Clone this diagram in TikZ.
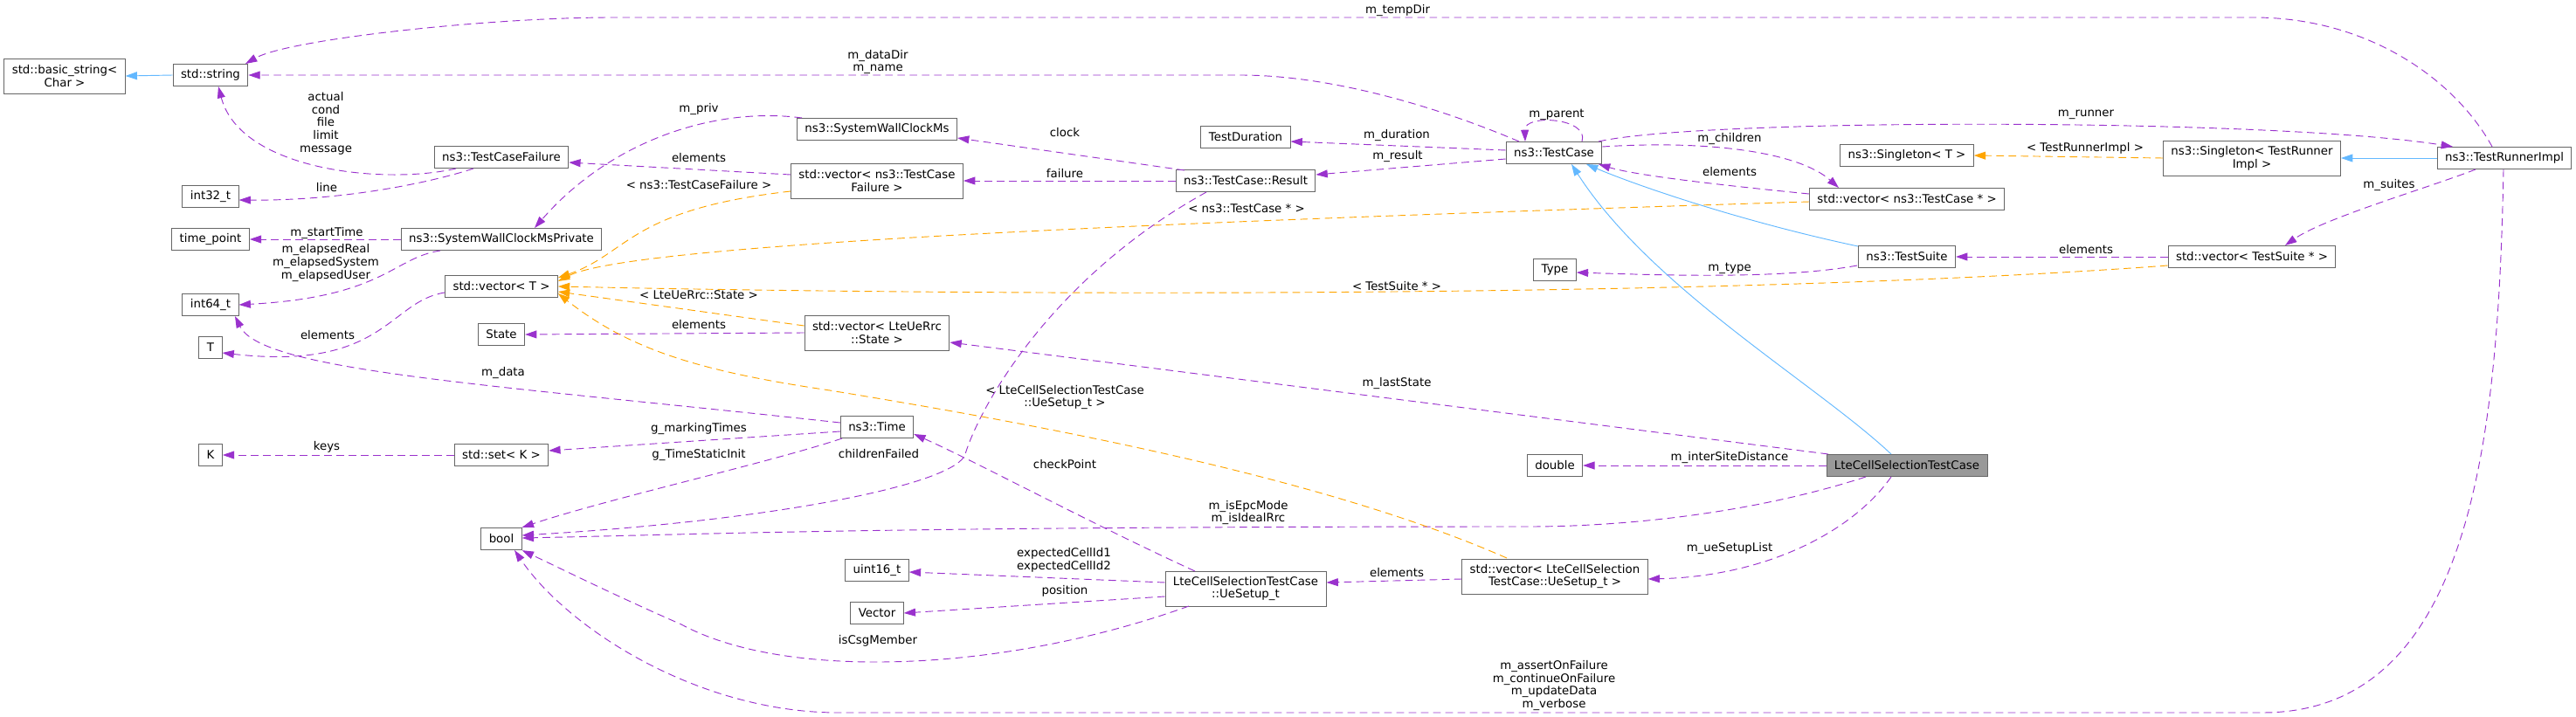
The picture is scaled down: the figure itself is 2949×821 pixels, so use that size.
\documentclass[tikz,border=0pt]{standalone}
\usepackage{fontspec}
\setmainfont{DejaVu Sans}
\usetikzlibrary{calc}
\usetikzlibrary{arrows.meta}
\definecolor{usepurple}{HTML}{9A32CD}
\definecolor{tmplorange}{HTML}{FFA500}
\definecolor{inhblue}{HTML}{63B8FF}
\definecolor{boxgray}{HTML}{666666}
\definecolor{maingray}{HTML}{999999}
\tikzstyle{cls}=[draw=boxgray,fill=white,line width=0.75pt,inner xsep=6.7pt,inner ysep=0pt,minimum height=19pt,align=center]
\tikzstyle{twocls}=[cls,minimum height=30pt]
\tikzstyle{maincls}=[cls,fill=maingray]
\tikzstyle{useedge}=[draw=usepurple,line width=0.7pt,dash pattern=on 6.5pt off 4pt,-{Triangle[length=10pt,width=6.7pt]}]
\tikzstyle{tmpledge}=[draw=tmplorange,line width=0.7pt,dash pattern=on 6.5pt off 4pt,-{Triangle[length=10pt,width=6.7pt]}]
\tikzstyle{inhedge}=[draw=inhblue,line width=0.7pt,-{Triangle[length=10pt,width=6.7pt]}]
\tikzstyle{elabel}=[inner sep=0pt,align=center]

\begin{document}
\begin{tikzpicture}[x=0.75pt,y=-0.75pt,font=\fontsize{10}{11}\selectfont]
    \useasboundingbox (0,0) rectangle (2949,821);

    % classes
    \foreach \pos/\name/\txt in {{(241,86)/str/std::string}, {(574,180)/tcf/ns3::TestCaseFailure},
        {(241,225)/i32/int32\_t}, {(241,274)/tpt/time\_point}, {(574,274)/swcp/ns3::SystemWallClockMsPrivate},
        {(574,328)/vecT/std::vector< T >}, {(241,349)/i64/int64\_t}, {(574,383)/state/State},
        {(241,398)/tT/T}, {(241,521)/kK/K}, {(574,521)/setK/std::set< K >}, {(574,617)/bool/bool},
        {(1004,148)/swc/ns3::SystemWallClockMs}, {(1004,489)/time/ns3::Time}, {(1004,653)/u16/uint16\_t},
        {(1004,702)/vec/Vector}, {(1426,157)/tdur/TestDuration}, {(1426,207)/res/ns3::TestCase::Result},
        {(1779,175)/tc/ns3::TestCase}, {(1780,309)/type/Type}, {(1780,533)/dbl/double},
        {(2183,178)/sgT/ns3::Singleton< T >}, {(2183,228)/vtc/std::vector< ns3::TestCase * >},
        {(2183,294)/ts/ns3::TestSuite}, {(2578,294)/vts/std::vector< TestSuite * >},
        {(2867,181)/tri/ns3::TestRunnerImpl}}
        \node[cls] (\name) at \pos {\txt};

    \foreach \pos/\name/\txt in {{(74,87)/bstr/{std::basic\_string<\\ Char >}},
        {(1004,207)/vtcf/{std::vector< ns3::TestCase\\ Failure >}},
        {(1004,381)/vstate/{std::vector< LteUeRrc\\ ::State >}},
        {(1426,674)/uesetup/{LteCellSelectionTestCase\\ ::UeSetup\_t}},
        {(1780,660)/vue/{std::vector< LteCellSelection\\ TestCase::UeSetup\_t >}},
        {(2578,181)/sgR/{ns3::Singleton< TestRunner\\ Impl >}}}
        \node[twocls] (\name) at \pos {\txt};

    \node[maincls] (lcs) at (2183,533) {LteCellSelectionTestCase};

    % members
    \path[useedge] ($(tcf)+(-52,13)$) .. controls (440,212) and (275,195) .. ($(str)+(9,13)$);
    \path[useedge] ($(tcf)+(-32,13)$) .. controls (490,210) and (390,230) .. ($(i32.east)+(0,4)$);
    \path[inhedge] (str.west) -- (bstr.east);
    \path[useedge] ($(tri)+(-14,-13)$) .. controls (2810,90) and (2710,20) .. (2580,20) -- (700,20) .. controls (560,20) and (330,45) .. ($(str)+(40,-13)$);
    \path[useedge] ($(tc)+(-40,-13)$) .. controls (1640,120) and (1520,86) .. (1420,86) -- (str.east);
    \path[useedge] ($(swc)+(-86,-13)$) .. controls (820,122) and (700,160) .. ($(swcp)+(38,-13)$);
    \path[useedge] (swcp.west) -- (tpt.east);
    \path[useedge] ($(swcp)+(-70,13)$) .. controls (450,295) and (440,340) .. (i64.east);
    \path[useedge] ($(vecT.west)+(0,7)$) .. controls (445,345) and (440,425) .. ($(tT.east)+(0,6)$);
    \path[useedge] ($(time.west)+(0,-5)$) .. controls (560,440) and (300,425) .. ($(i64)+(28,13)$);
    \path[useedge] (setK.west) -- (kK.east);
    \path[useedge] ($(time.west)+(0,5)$) -- ($(setK.east)+(0,-5)$);
    \path[useedge] ($(time)+(-40,13)$) .. controls (880,530) and (700,570) .. (bool.north east);
    \path[useedge] ($(vtcf.west)+(0,-7)$) -- ($(tcf.east)+(0,6)$);
    \path[tmpledge] ($(vtcf.west)+(0,12)$) .. controls (720,240) and (720,290) .. ($(vecT)+(65,-10)$);
    \path[useedge] ($(res)+(-70,-12)$) -- ($(swc.east)+(0,10)$);
    \path[useedge] (res.west) -- (vtcf.east);
    \path[useedge] ($(res)+(-45,13)$) .. controls (1200,320) and (1120,470) .. (1105,520) .. controls (1095,553) and (900,595) .. ($(bool.east)+(0,-4)$);
    \path[useedge] ($(tc.west)+(0,-3)$) -- ($(tdur.east)+(0,5)$);
    \path[useedge] ($(tc.west)+(0,7)$) -- ($(res.east)+(0,-7)$);
    \path[useedge] ($(tc)+(32,-13)$) .. controls (1820,135) and (1745,130) .. ($(tc)+(-33,-13)$);
    \path[useedge] ($(tc.east)+(0,-7)$) .. controls (1960,160) and (2060,175) .. ($(vtc)+(-78,-13)$);
    \path[useedge] ($(vtc.west)+(0,-6)$) .. controls (1950,210) and (1870,200) .. ($(tc)+(51,13)$);
    \path[tmpledge] ($(vtc.west)+(0,3)$) .. controls (1300,255) and (720,280) .. ($(vecT)+(65,-6)$);
    \path[useedge] ($(tc)+(51,-13)$) .. controls (1950,135) and (2600,135) .. ($(tri)+(-59,-13)$);
    \path[tmpledge] (sgR.west) -- (sgT.east);
    \path[inhedge] (tri.west) -- (sgR.east);
    \path[useedge] ($(tri)+(-33,13)$) .. controls (2780,215) and (2660,250) .. ($(vts)+(38,-13)$);
    \path[useedge] (vts.west) -- (ts.east);
    \path[tmpledge] ($(vts.west)+(0,10)$) .. controls (2000,340) and (1200,340) .. (vecT.east);
    \path[useedge] ($(ts)+(-57,10)$) .. controls (2040,320) and (1900,315) .. ($(type.east)+(0,3)$);
    \path[inhedge] ($(ts)+(-56,-12)$) .. controls (2000,255) and (1880,215) .. ($(tc)+(37,13)$);
    \path[inhedge] ($(lcs)+(-18,-13)$) .. controls (2080,440) and (1890,330) .. ($(tc)+(20,13)$);
    \path[useedge] ($(lcs)+(-90,-13)$) -- ($(vstate.east)+(0,11)$);
    \path[useedge] (vstate.west) -- (state.east);
    \path[tmpledge] ($(vstate.west)+(0,-8)$) -- ($(vecT.east)+(0,6)$);
    \path[useedge] (lcs.west) -- (dbl.east);
    \path[useedge] ($(lcs)+(-47,13)$) .. controls (2000,590) and (1850,603) .. (1750,603) .. controls (1000,603) and (800,612) .. ($(bool.east)+(0,-1)$);
    \path[useedge] ($(lcs)+(-18,13)$) .. controls (2120,610) and (2020,660) .. ($(vue.east)+(0,3)$);
    \path[useedge] ($(vue.west)+(0,3)$) -- ($(uesetup.east)+(0,-7)$);
    \path[tmpledge] ($(vue)+(-55,-21)$) .. controls (1500,540) and (1150,480) .. (950,447) .. controls (800,425) and (720,400) .. ($(vecT.east)+(0,8)$);
    \path[useedge] ($(uesetup)+(-58,-20)$) .. controls (1250,600) and (1120,530) .. ($(time.east)+(0,8)$);
    \path[useedge] ($(uesetup.west)+(0,-7)$) -- ($(u16.east)+(0,2)$);
    \path[useedge] ($(uesetup.west)+(0,9)$) -- (vec.east);
    \path[useedge] ($(uesetup)+(-65,20)$) .. controls (1150,770) and (900,780) .. (780,715) .. controls (700,680) and (640,650) .. (bool.south east);
    \path[useedge] ($(tri)+(-1,13)$) .. controls (2860,500) and (2830,816) .. (2590,816) -- (960,816) .. controls (800,816) and (650,720) .. ($(bool)+(15,13)$);

    % edge labels
    \foreach \pos/\name/\txt in {{(373,141)/lactual/{actual\\cond\\file\\limit\\message}}, {(374,215)/lline/line},
        {(1600,12)/ltemp/m\_tempDir}, {(1005,71)/ldata/{m\_dataDir\\m\_name}}, {(800,125)/lpriv/m\_priv},
        {(374,267)/lstart/m\_startTime}, {(373,301)/lelapsed/{m\_elapsedReal\\m\_elapsedSystem\\m\_elapsedUser}},
        {(375,384)/lelemT/elements}, {(576,427)/lmdata/m\_data}, {(374,512)/lkeys/keys},
        {(800,491)/lmark/g\_markingTimes}, {(800,521)/lstatic/g\_TimeStaticInit}, {(800,181)/lelemf/elements},
        {(800,212)/ltcf/{< ns3::TestCaseFailure >}}, {(1219,152)/lclock/clock}, {(1219,199)/lfail/failure},
        {(1006,520)/lchild/childrenFailed}, {(800,338)/lrrc/{< LteUeRrc::State >}}, {(800,372)/lelems/elements},
        {(1427,239)/ltcp/{< ns3::TestCase * >}}, {(1599,155)/ldur/m\_duration}, {(1600,179)/lres/m\_result},
        {(1782,131)/lparent/m\_parent}, {(1980,159)/lchildren/m\_children}, {(1980,197)/lelemtc/elements},
        {(2388,131)/lrunner/m\_runner}, {(2387,170)/ltri/{< TestRunnerImpl >}}, {(2735,212)/lsuites/m\_suites},
        {(2388,286)/lelemts/elements}, {(1599,328)/ltsp/{< TestSuite * >}}, {(1980,307)/ltype/m\_type},
        {(1599,439)/llast/m\_lastState}, {(1980,524)/lsite/m\_interSiteDistance},
        {(1429,587)/lepc/{m\_isEpcMode\\m\_isIdealRrc}}, {(1980,628)/luelist/m\_ueSetupList},
        {(1599,656)/lelemue/elements}, {(1219,455)/lueset/{< LteCellSelectionTestCase\\::UeSetup\_t >}},
        {(1219,532)/lcheck/checkPoint}, {(1218,641)/lcell/{expectedCellId1\\expectedCellId2}},
        {(1219,677)/lpos/position}, {(1005,734)/lcsg/isCsgMember},
        {(1779,785)/lassert/{m\_assertOnFailure\\m\_continueOnFailure\\m\_updateData\\m\_verbose}}}
        \node[elabel] (\name) at \pos {\txt};
\end{tikzpicture}
\end{document}
